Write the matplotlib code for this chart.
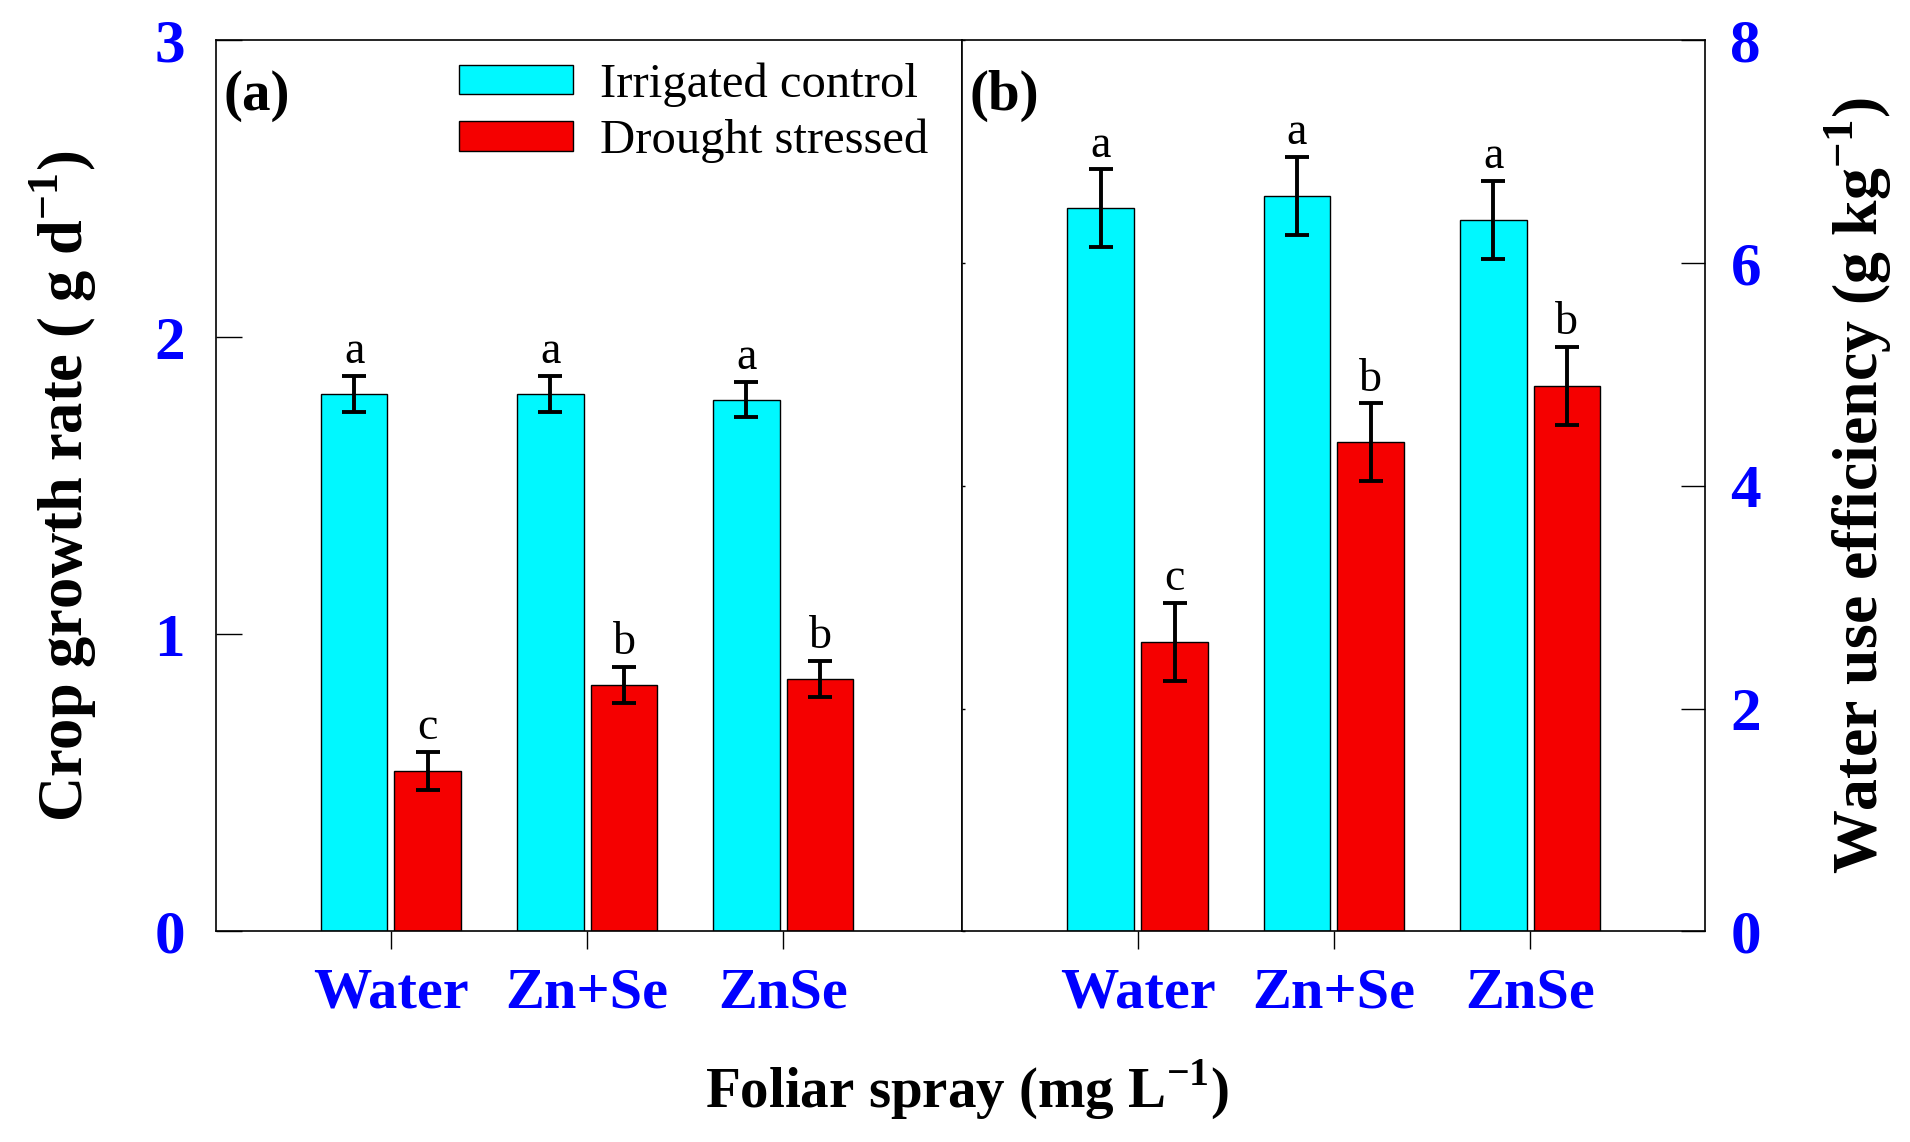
import numpy as np
import matplotlib
matplotlib.use("Agg")
import matplotlib.pyplot as plt

# Data
treatments = ["Water", "Zn+Se", "ZnSe"]
series = ["Irrigated control", "Drought stressed"]

cgr_irrigated = [1.81, 1.81, 1.79]
cgr_irrigated_err = [0.06, 0.06, 0.06]
cgr_drought = [0.54, 0.83, 0.85]
cgr_drought_err = [0.065, 0.06, 0.06]
cgr_letters_irrigated = ["a", "a", "a"]
cgr_letters_drought = ["c", "b", "b"]

wue_irrigated = [6.49, 6.60, 6.39]
wue_irrigated_err = [0.35, 0.35, 0.35]
wue_drought = [2.60, 4.39, 4.90]
wue_drought_err = [0.35, 0.35, 0.35]
wue_letters_irrigated = ["a", "a", "a"]
wue_letters_drought = ["c", "b", "b"]

cgr_ticks = [0, 1, 2, 3]
wue_ticks = [0, 2, 4, 6, 8]

# Style
CYAN = "#00F8FF"
RED = "#F50000"
BLUE = "#0000FF"
SERIF = "Liberation Serif"

plt.rcParams["font.family"] = SERIF
plt.rcParams["mathtext.fontset"] = "custom"
plt.rcParams["mathtext.rm"] = SERIF
plt.rcParams["mathtext.bf"] = SERIF + ":bold"

fig = plt.figure(figsize=(19.1, 11.42), dpi=100)
ax_a = fig.add_axes([0.1129, 0.1844, 0.3909, 0.7804])
ax_b = fig.add_axes([0.5038, 0.1844, 0.3891, 0.7804])

x = np.arange(len(treatments))
width = 0.34
offset = 0.188
err_kw = dict(ecolor="black", elinewidth=2.8, capsize=8.5, capthick=2.8)


def draw_panel(ax, irr, irr_err, dro, dro_err, let_irr, let_dro):
    ax.bar(x - offset, irr, width, yerr=irr_err, color=CYAN, edgecolor="black",
           linewidth=1.0, error_kw=err_kw, label=series[0], zorder=2)
    ax.bar(x + offset, dro, width, yerr=dro_err, color=RED, edgecolor="black",
           linewidth=1.0, error_kw=err_kw, label=series[1], zorder=2)
    for xi, v, e, t in zip(x - offset, irr, irr_err, let_irr):
        ax.annotate(t, (xi, v + e), xytext=(0, 2), textcoords="offset points",
                    ha="center", va="bottom", fontsize=33)
    for xi, v, e, t in zip(x + offset, dro, dro_err, let_dro):
        ax.annotate(t, (xi, v + e), xytext=(0, 2), textcoords="offset points",
                    ha="center", va="bottom", fontsize=33)
    ax.set_xticks(x)
    ax.set_xticklabels(treatments, fontsize=42, fontweight="bold", color=BLUE)
    ax.tick_params(axis="x", direction="out", length=13, width=1.0, pad=13)
    for s in ax.spines.values():
        s.set_linewidth(1.2)


draw_panel(ax_a, cgr_irrigated, cgr_irrigated_err, cgr_drought, cgr_drought_err,
           cgr_letters_irrigated, cgr_letters_drought)
draw_panel(ax_b, wue_irrigated, wue_irrigated_err, wue_drought, wue_drought_err,
           wue_letters_irrigated, wue_letters_drought)

# Panel (a)
ax_a.set_xlim(-0.894, 2.913)
ax_a.set_ylim(0, 3)
ax_a.set_yticks(cgr_ticks)
ax_a.set_yticklabels([str(t) for t in cgr_ticks], fontsize=44, fontweight="bold", color=BLUE)
ax_a.tick_params(axis="y", direction="in", length=19, width=1.0, pad=22)
ax_a.set_ylabel("Crop growth rate ( g d$^{\\mathbf{-1}}$)", fontsize=45,
                fontweight="bold", labelpad=40)
ax_a.text(0.010, 0.967, "(a)", transform=ax_a.transAxes, fontsize=41,
          fontweight="bold", ha="left", va="top")
ax_a.legend(loc="upper left", bbox_to_anchor=(0.326, 0.975), frameon=False,
            fontsize=35, handlelength=2.35, handleheight=0.55, handletextpad=0.55,
            labelspacing=0.24, borderpad=0, borderaxespad=0)

# Panel (b)
ax_b.set_xlim(-0.894, 2.894)
ax_b.set_ylim(0, 8)
ax_b.set_yticks(wue_ticks)
ax_b.yaxis.tick_right()
ax_b.yaxis.set_label_position("right")
ax_b.set_yticklabels([str(t) for t in wue_ticks], fontsize=44, fontweight="bold", color=BLUE)
ax_b.tick_params(axis="y", which="both", direction="in", right=True, left=True,
                 length=17, width=1.0, pad=18)
for t in ax_b.yaxis.get_major_ticks():
    t.tick1line.set_markersize(2)
ax_b.set_ylabel("Water use efficiency (g kg$^{\\mathbf{-1}}$)", fontsize=46,
                fontweight="bold", labelpad=44, rotation=90)
ax_b.text(0.010, 0.967, "(b)", transform=ax_b.transAxes, fontsize=41,
          fontweight="bold", ha="left", va="top")

fig.text(0.5064, 0.046, "Foliar spray (mg L$^{\\mathbf{-1}}$)", fontsize=41,
         fontweight="bold", ha="center", va="center")

fig.savefig("out.png", dpi=100)
